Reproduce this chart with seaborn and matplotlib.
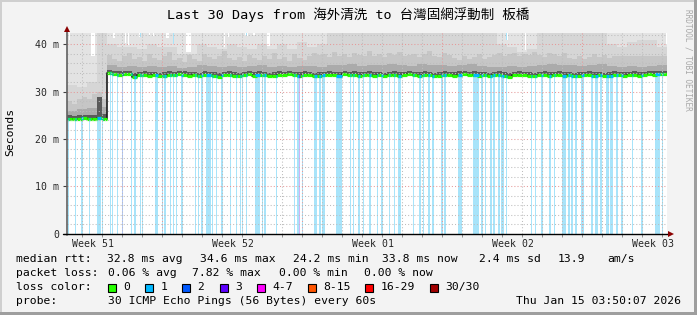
import numpy as np
import pandas as pd
import matplotlib
matplotlib.use("Agg")
import matplotlib.pyplot as plt
import matplotlib.patches as mpatches
import seaborn as sns

W, H = 697, 315

# ---------------- data (time in days from left edge of graph) ----------------
BIN_FINE = 0.25
BIN_COARSE = 0.5

median_ms = [
    24.3, 24.2, 24.3, 24.4, 24.2, 24.3, 24.5, 24.3,
    33.9, 33.7, 33.6, 33.8, 33.7, 33.1, 33.5, 33.6, 33.4, 33.5, 33.3, 33.4,
    33.6, 33.5, 33.7, 33.6, 33.4, 33.5, 33.3, 33.6, 33.5, 33.4, 33.2, 33.5, 33.6, 33.4, 33.3, 33.5, 33.7, 33.4, 33.6, 33.5,
    33.3, 33.4, 33.6, 33.5, 33.7, 33.5, 33.4, 33.6, 33.5, 33.3, 33.4, 33.5, 33.6, 33.5, 33.4, 33.7, 33.5, 33.6, 33.4, 33.5,
    33.6, 33.4, 33.5, 33.3, 33.5, 33.6, 33.4, 33.5, 33.7, 33.5, 33.4, 33.6, 33.5, 33.3, 33.4, 33.6, 33.5, 33.4, 33.6, 33.7,
    33.5, 33.6, 33.4, 33.5, 33.3, 33.5, 33.6, 33.4, 33.2, 33.5, 33.6, 33.5, 33.4, 33.3, 33.5, 33.6, 33.4, 33.5, 33.6, 33.4,
    33.5, 33.3, 33.4, 33.5, 33.6, 33.4, 33.5, 33.3, 33.4, 33.6, 33.5, 33.4, 33.5, 33.6, 33.4, 33.5, 33.7, 33.6, 33.8, 33.8,
]

# densest smoke just above the median (fine bins)
dark_top_ms = [
    25.0, 24.9, 25.1, 25.2, 25.0, 25.1, 29.0, 25.3,
    34.6, 34.4, 34.3, 34.5, 34.3, 33.9, 34.2, 34.3, 34.1, 34.2, 34.0, 34.2,
    34.3, 34.2, 34.4, 34.3, 34.1, 34.2, 34.0, 34.3, 34.2, 34.1, 33.9, 34.2, 34.3, 34.1, 34.0, 34.2, 34.4, 34.1, 34.3, 34.2,
    34.0, 34.1, 34.3, 34.2, 34.4, 34.2, 34.1, 34.3, 34.2, 34.0, 34.1, 34.2, 34.3, 34.2, 34.1, 34.4, 34.2, 34.3, 34.1, 34.2,
    34.3, 34.1, 34.2, 34.0, 34.2, 34.3, 34.1, 34.2, 34.4, 34.2, 34.1, 34.3, 34.2, 34.0, 34.1, 34.3, 34.2, 34.1, 34.3, 34.4,
    34.2, 34.3, 34.1, 34.2, 34.0, 34.2, 34.3, 34.1, 33.9, 34.2, 34.3, 34.2, 34.1, 34.0, 34.2, 34.3, 34.1, 34.2, 34.3, 34.1,
    34.2, 34.0, 34.1, 34.2, 34.3, 34.1, 34.2, 34.0, 34.1, 34.3, 34.2, 34.1, 34.2, 34.3, 34.1, 34.2, 34.4, 34.3, 34.5, 34.5,
]

# medium smoke (coarse bins)
mid_top_ms = [
    26.0, 26.3, 26.5, 26.8,
    35.6, 35.3, 35.5, 35.2, 35.4, 35.3, 35.5, 35.1, 35.3, 35.6,
    35.4, 35.2, 35.5, 35.3, 35.4, 35.6, 35.2, 35.4, 35.3, 35.5,
    35.4, 35.2, 35.6, 35.7, 35.8, 35.5, 35.7, 35.6, 35.9, 35.7,
    35.5, 35.8, 35.6, 35.7, 35.4, 35.6, 35.8, 35.5, 35.3, 35.2,
    35.4, 35.3, 35.5, 35.7, 35.8, 35.6, 35.7, 35.5, 35.6, 35.8,
    35.4, 35.2, 35.4, 35.3, 35.5, 35.6,
]

# lighter smoke (fine bins)
light_top_ms = [
    28.0, 27.5, 28.5, 29.0, 28.5, 29.5, 30.0, 28.5,
    37.8, 37.0, 36.6, 37.5, 38.2, 36.9, 37.3, 36.5, 37.9, 37.1,
    36.7, 37.6, 38.4, 36.8, 37.2, 36.4, 37.7, 37.0, 36.6, 38.0,
    37.3, 36.9, 37.5, 38.6, 37.1, 36.7, 37.4, 36.5, 37.8, 37.2,
    36.8, 37.6, 37.0, 38.3, 36.9, 37.4, 36.6, 37.9, 37.2, 36.8,
    37.5, 38.1, 37.7, 38.0, 37.4, 38.5, 37.6, 37.9, 37.3, 38.2,
    37.8, 37.5, 38.7, 37.6, 37.9, 37.4, 38.1, 37.7, 38.4, 37.5,
    37.8, 38.0, 37.3, 37.9, 38.6, 37.6, 37.4, 38.2, 37.7, 37.1,
    36.8, 37.5, 37.0, 37.3, 38.0, 36.9, 37.4, 37.8, 38.3, 37.6,
    37.9, 38.2, 37.5, 38.0, 37.7, 38.5, 37.8, 37.4, 38.1, 37.9,
    37.6, 38.3, 37.2, 36.9, 37.5, 37.0, 37.4, 38.0, 37.3, 37.7,
    37.1, 37.6,
]

pale_top_ms = [
    31.5, 31.0, 32.0, 45.0,
    40.0, 39.5, 39.5, 39.0, 40.0, 39.5, 39.5, 38.0, 38.0, 40.0, 39.5,
    39.0, 40.0, 39.5, 39.0, 40.0, 39.0, 40.0, 39.0, 40.5, 39.5, 40.0,
    45.0, 45.0, 45.0, 45.0, 45.0, 45.0, 45.0, 45.0, 45.0, 45.0, 45.0, 45.0, 45.0, 45.0, 45.0, 45.0, 45.0,
    40.0, 39.5, 38.5, 39.0,
    45.0, 45.0, 45.0, 45.0, 45.0, 45.0, 45.0,
    40.0, 39.5, 40.5, 41.0, 41.0, 39.5,
]

# outermost smoke (max ping); mostly above the top of the graph
max_edges = [0, 0.08, 0.13, 1.20, 1.40, 2.30, 2.40, 2.90, 2.97, 3.05, 3.10, 3.62, 3.72,
             4.10, 4.15, 4.30, 4.35, 4.95, 5.10, 5.28, 5.36, 5.95, 6.20, 7.85, 7.90,
             8.05, 8.10, 8.90, 9.05, 9.30, 9.40, 10.00, 10.15, 21.95, 22.05, 22.90, 22.95,
             29.95, 30.0]
max_ms = [45, 41.0, 45, 37.5, 45, 41.4, 45, 40.3, 45, 39.9, 45, 41.5, 45, 42.0, 45, 41.8,
          45, 41.4, 45, 40.0, 45, 38.5, 45, 39.5, 45, 41.5, 45, 41.8, 45, 42.0, 45, 39.7,
          45, 41.0, 45, 38.9, 45, 40.0]

loss_start = [0.07, 0.40, 0.69, 1.10, 1.50, 1.74, 2.14, 2.24, 2.51, 2.73, 3.20, 3.37, 3.64, 3.74,
              4.40, 4.73, 4.87, 5.15, 5.30, 5.43, 5.72, 6.42, 6.54, 6.70, 6.95, 7.24, 7.47, 7.69,
              8.16, 8.47, 8.64, 8.76, 8.93, 9.38, 9.73, 9.87, 10.44, 11.33, 11.52, 11.58, 11.75,
              12.36, 12.59, 12.75, 13.43, 14.15, 14.31, 14.57, 14.78, 15.10, 15.52, 15.68, 16.10,
              16.33, 16.54, 17.31, 17.59, 17.78, 18.04, 18.25, 18.72, 18.87, 19.57, 20.31, 20.72,
              20.92, 21.17, 21.32, 21.56, 21.71, 21.97, 23.19, 23.38, 23.70, 24.12, 24.36, 24.75,
              25.06, 25.21, 25.41, 25.68, 26.22, 26.42, 26.65, 26.96, 27.16, 27.47, 27.70, 28.25,
              28.71, 29.41, 29.73]
loss_end = [0.12, 0.45, 0.82, 1.15, 1.68, 1.80, 2.19, 2.30, 2.57, 2.80, 3.27, 3.43, 3.70, 3.82,
            4.56, 4.79, 4.95, 5.20, 5.35, 5.49, 5.82, 6.47, 6.59, 6.81, 7.18, 7.32, 7.52, 7.82,
            8.21, 8.52, 8.70, 8.82, 8.99, 9.66, 9.81, 9.93, 10.49, 11.42, 11.58, 11.66, 11.81,
            12.49, 12.69, 12.88, 13.77, 14.20, 14.36, 14.67, 14.83, 15.22, 15.57, 15.80, 16.15,
            16.38, 16.70, 17.36, 17.71, 17.86, 18.13, 18.37, 18.81, 18.97, 19.77, 20.58, 20.82,
            20.97, 21.24, 21.40, 21.63, 21.87, 22.02, 23.27, 23.46, 23.81, 24.20, 24.41, 24.94,
            25.13, 25.29, 25.52, 25.84, 26.30, 26.54, 26.77, 27.08, 27.32, 27.55, 27.78, 28.32,
            28.79, 29.65, 29.80]
loss_level = [1] * len(loss_start)
loss_level[9] = 2     # 2.73 - 2.80
loss_level[39] = 3    # 11.58 - 11.66

week_labels = ["Week 51", "Week 52", "Week 01", "Week 02", "Week 03"]
ytick_vals = [0, 10, 20, 30, 40]
ytick_labels = ["0", "10 m", "20 m", "30 m", "40 m"]

rtt_stats = ["32.8 ms avg", "34.6 ms max", "24.2 ms min", "33.8 ms now", "2.4 ms sd", "13.9", "am/s"]
loss_stats = ["0.06 % avg", "7.82 % max", "0.00 % min", "0.00 % now"]
loss_names = ["0", "1", "2", "3", "4-7", "8-15", "16-29", "30/30"]
loss_colors = ["#26ff00", "#00b8ff", "#0059ff", "#5e00ff", "#ff00ff", "#ff5500", "#ff0000", "#a10000"]
band_colors = {1: "#a8e4fa", 2: "#b0c6f8", 3: "#cdb4f6"}
title = "Last 30 Days from 海外清洗 to 台灣固網浮動制 板橋"
probe_text = "30 ICMP Echo Pings (56 Bytes) every 60s"
stamp_text = "Thu Jan 15 03:50:07 2026"

# ---------------- layout constants ----------------
SPAN_DAYS = 30
YTOP = 42.43
FIRST_DAY_LINE = 0.765
FIRST_WEEK_LINE = 4.765
FIRST_WEEK_LABEL = 1.285

sns.set_theme(style="white")
plt.rcParams['font.family'] = ['DejaVu Sans Mono', 'Noto Sans CJK TC']

fig = plt.figure(figsize=(W / 100, H / 100), dpi=100)
fig.patch.set_facecolor('#f3f3f3')
ax = fig.add_axes([67 / W, (H - 233.7) / H, 600 / W, (233.7 - 33) / H])
ax.set_facecolor('white')
ax.set_xlim(0, SPAN_DAYS)
ax.set_ylim(0, YTOP)


def at(edges, vals, x):
    idx = np.searchsorted(edges, x, side='right') - 1
    idx = np.clip(idx, 0, len(vals) - 1)
    return np.asarray(vals, dtype=float)[idx]


fine_edges = np.arange(len(median_ms) + 1) * BIN_FINE
coarse_edges = np.arange(len(pale_top_ms) + 1) * BIN_COARSE
X = np.union1d(np.union1d(fine_edges, coarse_edges), np.asarray(max_edges))
med = at(fine_edges, median_ms, X)
outer = at(max_edges, max_ms, X)

# loss background bands
for s, e, lv in zip(loss_start, loss_end, loss_level):
    ax.axvspan(s, e, color=band_colors[lv], lw=0, zorder=1)

# smoke layers, outermost first
layers = [
    (outer, '#e3e3e3'),
    (at(coarse_edges, pale_top_ms, X), '#d6d6d6'),
    (at(fine_edges, light_top_ms, X), '#c6c6c6'),
    (at(coarse_edges, mid_top_ms, X), '#ababab'),
    (at(fine_edges, dark_top_ms, X), '#5a5a5a'),
]
for top, col in layers:
    ax.fill_between(X, med, np.minimum(top, outer), step='post', color=col, lw=0, zorder=2)

# median: dark connecting line, then loss-coloured segments
df = pd.DataFrame({"t": fine_edges, "ms": list(median_ms) + [median_ms[-1]]})
sns.lineplot(data=df, x="t", y="ms", drawstyle='steps-post', color='#1a1a1a',
             lw=1.2, ax=ax, zorder=3, estimator=None)
ax.hlines(median_ms, fine_edges[:-1], fine_edges[1:], colors=loss_colors[0], lw=2.3,
          zorder=4)
for s, e, lv in zip(loss_start, loss_end, loss_level):
    y = at(fine_edges, median_ms, np.array([(s + e) / 2]))[0]
    ax.hlines(y, s, e, colors=loss_colors[lv], lw=2.3, zorder=5)

# grid (drawn on top, rrdtool style)
dots = (0, (1, 2))
for d in np.arange(FIRST_DAY_LINE, SPAN_DAYS, 1.0):
    is_major = abs(((d - FIRST_WEEK_LINE) / 7) - round((d - FIRST_WEEK_LINE) / 7)) < 1e-6
    ax.axvline(d, color='#e59a9a' if is_major else '#bdbdbd', lw=0.75, ls=dots, zorder=6)
for v in np.arange(2, YTOP, 2):
    is_major = int(round(v)) % 10 == 0
    ax.axhline(v, color='#e59a9a' if is_major else '#bdbdbd', lw=0.75, ls=dots, zorder=6)

for sp in ax.spines.values():
    sp.set_visible(False)

# axes lines with arrows
ax.plot([0, 0], [-0.005, 1.015], transform=ax.transAxes, color='#606060', lw=1.2,
        clip_on=False, zorder=7)
ax.plot([-0.007, 1.003], [0, 0], transform=ax.transAxes, color='black', lw=1.0,
        clip_on=False, zorder=7)
ax.plot([0], [1.02], marker='^', transform=ax.transAxes, color='#8b0000', ms=4.5,
        clip_on=False, zorder=8, mew=0)
ax.plot([1.006], [0], marker='>', transform=ax.transAxes, color='#8b0000', ms=4.5,
        clip_on=False, zorder=8, mew=0)

# ticks
ax.set_yticks(ytick_vals, labels=ytick_labels)
ax.tick_params(axis='y', which='major', length=3, width=0.8, color='#404040', pad=2.5,
               labelsize=7.1, left=True)
ax.set_xticks(FIRST_WEEK_LABEL + 7 * np.arange(len(week_labels)), labels=week_labels)
ax.set_xticks(np.arange(FIRST_DAY_LINE, SPAN_DAYS, 1.0), minor=True)
ax.tick_params(axis='x', which='major', length=0, pad=4, labelsize=7.1, bottom=True)
ax.tick_params(axis='x', which='minor', length=2.5, width=0.7, color='#909090', bottom=True)
ax.set_xlabel('')
ax.set_ylabel('')


def ftext(x, y, s, **kw):
    kw.setdefault('va', 'center')
    kw.setdefault('ha', 'left')
    kw.setdefault('fontsize', 8.2)
    fig.text(x / W, 1 - y / H, s, color='black', **kw)


ftext(348.5, 15, title, ha='center', fontsize=9.7)
ftext(10, 132, 'Seconds', ha='center', rotation=90)
fig.text(688 / W, 1 - 60 / H, 'RRDTOOL / TOBI OETIKER', rotation=270, ha='center',
         va='center', fontsize=5.6, color='#a8a8a8')

row_y = [259.3, 273.3, 287.3, 301.0]
ftext(16, row_y[0], 'median rtt:')
for s, x in zip(rtt_stats, [107, 200, 293, 382, 479, 558, 607]):
    ftext(x, row_y[0], s)
ftext(16, row_y[1], 'packet loss:')
for s, x in zip(loss_stats, [107.6, 192, 279, 364.4]):
    ftext(x, row_y[1], s)
ftext(16, row_y[2], 'loss color:')
box_x = [108, 145, 182, 219.6, 257, 307.6, 365, 430]
for name, col, bx in zip(loss_names, loss_colors, box_x):
    fig.add_artist(mpatches.Rectangle((bx, H - row_y[2] - 4.5), 8, 8, transform=None,
                                      facecolor=col, edgecolor='black', lw=0.8))
    ftext(bx + 15.5, row_y[2], name)
ftext(16, row_y[3], 'probe:')
ftext(107.6, row_y[3], probe_text)
ftext(681, row_y[3], stamp_text, ha='right')

# 3D frame
fig.add_artist(mpatches.Rectangle((0, 0), 2, H, transform=None, facecolor='#cfcfcf', lw=0))
fig.add_artist(mpatches.Rectangle((0, H - 2), W, 2, transform=None, facecolor='#cfcfcf', lw=0))
fig.add_artist(mpatches.Rectangle((W - 3, 0), 3, H, transform=None, facecolor='#9e9e9e', lw=0))
fig.add_artist(mpatches.Rectangle((0, 0), W, 3, transform=None, facecolor='#9e9e9e', lw=0))

fig.savefig('out.png', dpi=100, facecolor=fig.get_facecolor())
